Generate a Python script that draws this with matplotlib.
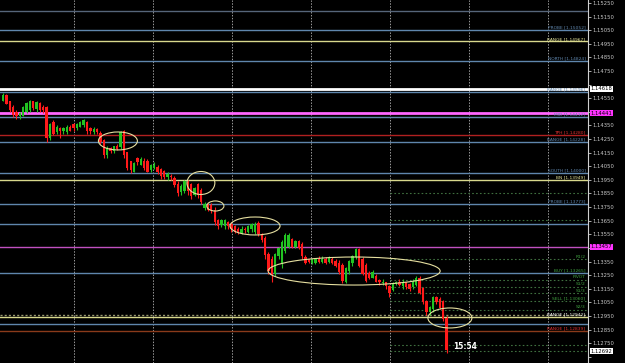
import matplotlib.pyplot as plt
from matplotlib.patches import Ellipse

# H1 candles (oldest first)
opens = [1.1453, 1.1457, 1.1453, 1.1448, 1.1445, 1.1442, 1.1442, 1.1445, 1.1446, 1.1453,
         1.1447, 1.1451, 1.1448, 1.1448, 1.1426, 1.1437, 1.1430, 1.1433, 1.1431, 1.1430,
         1.1434, 1.1436, 1.1433, 1.1434, 1.1435, 1.1437, 1.1433, 1.1430, 1.1432, 1.1429,
         1.1424, 1.1413, 1.1418, 1.1416, 1.1420, 1.1419, 1.1431, 1.1415, 1.1409, 1.1401,
         1.1411, 1.1406, 1.1409, 1.1409, 1.1402, 1.1404, 1.1404, 1.1403, 1.1401, 1.1397,
         1.1398, 1.1396, 1.1392, 1.1386, 1.1387, 1.1393, 1.1392, 1.1384, 1.1392, 1.1387,
         1.1374, 1.1377, 1.1376, 1.1373, 1.1365, 1.1362, 1.1361, 1.1364, 1.1362, 1.1361,
         1.1359, 1.1356, 1.1359, 1.1357, 1.1359, 1.1357, 1.1363, 1.1355, 1.1352, 1.1340,
         1.1337, 1.1326, 1.1339, 1.1334, 1.1343, 1.1346, 1.1351, 1.1346, 1.1350, 1.1348,
         1.1338, 1.1337, 1.1334, 1.1334, 1.1337, 1.1335, 1.1337, 1.1335, 1.1337, 1.1335,
         1.1334, 1.1332, 1.1320, 1.1328, 1.1334, 1.1338, 1.1344, 1.1337, 1.1332, 1.1326,
         1.1323, 1.1324, 1.1321, 1.1319, 1.1320, 1.1317, 1.1314, 1.1319, 1.1320, 1.1317,
         1.1320, 1.1318, 1.1316, 1.1318, 1.1323, 1.1315, 1.1306, 1.1298, 1.1300, 1.1309,
         1.1307, 1.1306, 1.1293]
highs = [1.1459, 1.1458, 1.1453, 1.1450, 1.1446, 1.1445, 1.1449, 1.1452, 1.1454, 1.1453,
         1.1453, 1.1452, 1.1450, 1.1449, 1.1437, 1.1439, 1.1435, 1.1434, 1.1434, 1.1435,
         1.1435, 1.1437, 1.1437, 1.1438, 1.1440, 1.1438, 1.1434, 1.1434, 1.1433, 1.1431,
         1.1425, 1.1420, 1.1419, 1.1420, 1.1421, 1.1431, 1.1432, 1.1415, 1.1409, 1.1408,
         1.1412, 1.1412, 1.1411, 1.1410, 1.1407, 1.1408, 1.1406, 1.1404, 1.1402, 1.1401,
         1.1399, 1.1398, 1.1394, 1.1392, 1.1395, 1.1395, 1.1393, 1.1390, 1.1393, 1.1389,
         1.1379, 1.1378, 1.1378, 1.1375, 1.1366, 1.1366, 1.1366, 1.1365, 1.1364, 1.1362,
         1.1360, 1.1361, 1.1360, 1.1362, 1.1363, 1.1364, 1.1365, 1.1356, 1.1354, 1.1342,
         1.1339, 1.1341, 1.1346, 1.1351, 1.1356, 1.1356, 1.1352, 1.1351, 1.1351, 1.1349,
         1.1340, 1.1337, 1.1337, 1.1337, 1.1339, 1.1339, 1.1338, 1.1339, 1.1338, 1.1337,
         1.1336, 1.1334, 1.1331, 1.1336, 1.1340, 1.1345, 1.1345, 1.1338, 1.1334, 1.1328,
         1.1329, 1.1326, 1.1322, 1.1322, 1.1320, 1.1318, 1.1320, 1.1321, 1.1322, 1.1322,
         1.1320, 1.1319, 1.1322, 1.1324, 1.1324, 1.1316, 1.1307, 1.1302, 1.1310, 1.1310,
         1.1309, 1.1307, 1.1295]
lows = [1.1453, 1.1451, 1.1445, 1.1441, 1.1440, 1.1440, 1.1442, 1.1444, 1.1445, 1.1446,
        1.1445, 1.1445, 1.1444, 1.1423, 1.1424, 1.1428, 1.1429, 1.1426, 1.1429, 1.1429,
        1.1431, 1.1431, 1.1432, 1.1434, 1.1434, 1.1429, 1.1429, 1.1429, 1.1429, 1.1421,
        1.1411, 1.1411, 1.1415, 1.1415, 1.1417, 1.1418, 1.1411, 1.1402, 1.1400, 1.1401,
        1.1406, 1.1406, 1.1402, 1.1401, 1.1401, 1.1403, 1.1399, 1.1396, 1.1396, 1.1395,
        1.1395, 1.1390, 1.1383, 1.1384, 1.1385, 1.1384, 1.1381, 1.1383, 1.1382, 1.1377,
        1.1373, 1.1372, 1.1371, 1.1362, 1.1359, 1.1360, 1.1359, 1.1359, 1.1357, 1.1356,
        1.1355, 1.1355, 1.1356, 1.1356, 1.1357, 1.1355, 1.1354, 1.1349, 1.1337, 1.1326,
        1.1320, 1.1324, 1.1337, 1.1330, 1.1341, 1.1345, 1.1345, 1.1345, 1.1344, 1.1337,
        1.1333, 1.1334, 1.1333, 1.1333, 1.1334, 1.1334, 1.1333, 1.1334, 1.1333, 1.1331,
        1.1326, 1.1319, 1.1319, 1.1326, 1.1332, 1.1337, 1.1331, 1.1325, 1.1320, 1.1322,
        1.1323, 1.1320, 1.1318, 1.1318, 1.1315, 1.1309, 1.1313, 1.1318, 1.1317, 1.1315,
        1.1315, 1.1313, 1.1315, 1.1317, 1.1311, 1.1304, 1.1296, 1.1296, 1.1298, 1.1304,
        1.1300, 1.1291, 1.1268]
closes = [1.1457, 1.1451, 1.1446, 1.1443, 1.1442, 1.1444, 1.1448, 1.1451, 1.1453, 1.1448,
          1.1452, 1.1446, 1.1446, 1.1426, 1.1436, 1.1429, 1.1434, 1.1431, 1.1433, 1.1434,
          1.1431, 1.1433, 1.1436, 1.1437, 1.1439, 1.1431, 1.1431, 1.1432, 1.1430, 1.1423,
          1.1413, 1.1418, 1.1416, 1.1420, 1.1418, 1.1430, 1.1413, 1.1404, 1.1402, 1.1407,
          1.1408, 1.1410, 1.1404, 1.1401, 1.1406, 1.1406, 1.1401, 1.1398, 1.1397, 1.1399,
          1.1397, 1.1391, 1.1385, 1.1390, 1.1394, 1.1387, 1.1383, 1.1389, 1.1384, 1.1379,
          1.1377, 1.1373, 1.1373, 1.1364, 1.1361, 1.1365, 1.1365, 1.1361, 1.1359, 1.1357,
          1.1356, 1.1359, 1.1358, 1.1361, 1.1362, 1.1362, 1.1355, 1.1351, 1.1340, 1.1328,
          1.1325, 1.1340, 1.1345, 1.1349, 1.1354, 1.1354, 1.1346, 1.1350, 1.1345, 1.1339,
          1.1334, 1.1335, 1.1337, 1.1337, 1.1335, 1.1337, 1.1334, 1.1338, 1.1334, 1.1332,
          1.1327, 1.1321, 1.1330, 1.1335, 1.1339, 1.1344, 1.1332, 1.1326, 1.1321, 1.1323,
          1.1327, 1.1320, 1.1320, 1.1320, 1.1317, 1.1312, 1.1318, 1.1320, 1.1318, 1.1320,
          1.1316, 1.1315, 1.1320, 1.1323, 1.1312, 1.1305, 1.1298, 1.1301, 1.1309, 1.1305,
          1.1301, 1.1293, 1.1270]

# horizontal levels drawn over the whole chart
level_prices = [1.15191, 1.15052, 1.14967, 1.14824, 1.14618, 1.14596, 1.14441, 1.14412,
                1.14280, 1.14228, 1.14000, 1.13949, 1.13773, 1.13626, 1.13457, 1.13265,
                1.12942, 1.12891, 1.12839]
level_names = ['', 'PROBE [1.15052]', 'RANGE [1.14967]', 'NORTH [1.14824]', '',
               'RANGE [1.14596]', '', 'MID [1.14412]', 'TPH [1.14280]', 'RANGE [1.14228]',
               'SOUTH [1.14000]', 'BN [1.13949]', 'PROBE [1.13773]', '', '',
               'BUY [1.13265]', 'RANGE [1.12942]', '', 'RANGE [1.12839]']
level_colors = ['#56657a', '#5f86ad', '#d8d88c', '#5f86ad', '#ffffff', '#5f86ad', '#ff66ff',
                '#5f86ad', '#b02020', '#5f86ad', '#5f86ad', '#d8d88c', '#5f86ad', '#5f86ad',
                '#c050c0', '#5f86ad', '#d8d88c', '#5f86ad', '#8a3a1a']
text_colors = ['#56657a', '#5f86ad', '#e8e89c', '#5f86ad', '#ffffff', '#5f86ad', '#ff66ff',
               '#5f86ad', '#e03030', '#5f86ad', '#5f86ad', '#e8e89c', '#5f86ad', '#5f86ad',
               '#c050c0', '#3fa03f', '#ffffff', '#5f86ad', '#e03030']
level_widths = [1, 1, 1, 1, 2, 1, 2, 1, 1, 1, 1, 1, 1, 1, 1, 1, 1, 1, 1]

# today's dotted pivot levels (start at the last day separator)
pivot_prices = [1.13854, 1.13655, 1.13368, 1.13214, 1.13163, 1.13118, 1.13060, 1.12994,
                1.12736, 1.12692]
pivot_names = ['', '', 'R1/2', 'PIVOT', 'S1/2', 'S1/3', 'SELL [1.13060]', 'S2/3', '', '']

# day separators in bar units, zones that were circled
sep_idx = [21.1, 44.6, 68.2, 91.7, 115.2, 138.7, 162.2]
ell_idx = [34.2, 58.9, 63.2, 75.0, 104.5, 133.0]
ell_price = [1.14236, 1.13927, 1.13758, 1.13611, 1.13280, 1.12935]
ell_w = [11.6, 8.3, 5.1, 14.9, 51.2, 13.1]
ell_h = [0.00132, 0.00169, 0.00074, 0.00132, 0.00206, 0.00147]

price_ticks = [round(1.15250 - 0.001 * k, 5) for k in range(27)]
boxes = [(1.14618, '#ffffff'), (1.14441, '#ff33ff'), (1.13457, '#ff33ff'), (1.12692, '#ffffff')]

fig = plt.figure(figsize=(6.25, 3.63), dpi=100, facecolor='black')
ax = fig.add_axes([0, 0, 588 / 625, 1])
ax.set_facecolor('black')
ax.set_xlim(-0.89, 174.1)
ax.set_ylim(1.12604, 1.15272)
x_end = 174.1

for s in sep_idx:
    ax.axvline(s, color='#9a9a9a', lw=0.7, ls=(0, (1.5, 1.5)), zorder=1)

for p, c, w in zip(level_prices, level_colors, level_widths):
    ax.axhline(p, color=c, lw=w, zorder=2)
# the RANGE line near the bottom also carries a dotted band
ax.axhline(1.12955, color='#9a9a70', lw=1, ls=(0, (1.5, 1.5)), zorder=2)

for p in pivot_prices:
    ax.hlines(p, 115.2, x_end, color='#3f6f3f', lw=0.8, ls=(0, (1.5, 2)), zorder=2)

for p, t, c in zip(level_prices, level_names, text_colors):
    if t:
        ax.text(173.3, p + 0.00004, t, color=c, fontsize=3.2, ha='right', va='bottom', zorder=5)
for p, t in zip(pivot_prices, pivot_names):
    if t:
        ax.text(173.3, p + 0.00004, t, color='#3fa03f', fontsize=3.2, ha='right', va='bottom', zorder=5)

# candles
for i in range(len(opens)):
    up = closes[i] >= opens[i]
    col = '#22c322' if up else '#ff1a1a'
    ax.vlines(i, lows[i], highs[i], color=col, lw=0.8, zorder=3)
    ax.bar(i, abs(closes[i] - opens[i]) + 0.00002, bottom=min(opens[i], closes[i]),
           width=0.7, color=col, lw=0, zorder=4)

for cx, cy, w, h in zip(ell_idx, ell_price, ell_w, ell_h):
    ax.add_patch(Ellipse((cx, cy), w, h, fill=False, ec='#e6dfa0', lw=0.8, zorder=6))

ax.text(137.5, 1.12722, '15:54', color='white', fontsize=5.5, fontweight='bold',
        ha='center', va='center', zorder=7)

# price scale on the right; the boxed prices cover the tick labels under them
ax.yaxis.tick_right()
ax.set_yticks(price_ticks)
tick_text = []
for t in price_ticks:
    hidden = any(abs(t - b[0]) < 0.0005 for b in boxes)
    tick_text.append('' if hidden else '%.5f' % t)
ax.set_yticklabels(tick_text)
ax.tick_params(axis='y', colors='#c8c8c8', labelsize=3.8, length=2, width=0.6, pad=1.5)
ax.set_xticks([])
for side in ['left', 'top', 'bottom']:
    ax.spines[side].set_visible(False)
ax.spines['right'].set_color('#d0d0d0')
ax.spines['right'].set_linewidth(0.8)

for p, c in boxes:
    ax.text(1.004, p, '%.5f' % p, transform=ax.get_yaxis_transform(), color='black',
            fontsize=3.8, ha='left', va='center', zorder=8,
            bbox=dict(boxstyle='square,pad=0.15', fc=c, ec='none'))

plt.savefig('out.png', dpi=100, facecolor='black')
